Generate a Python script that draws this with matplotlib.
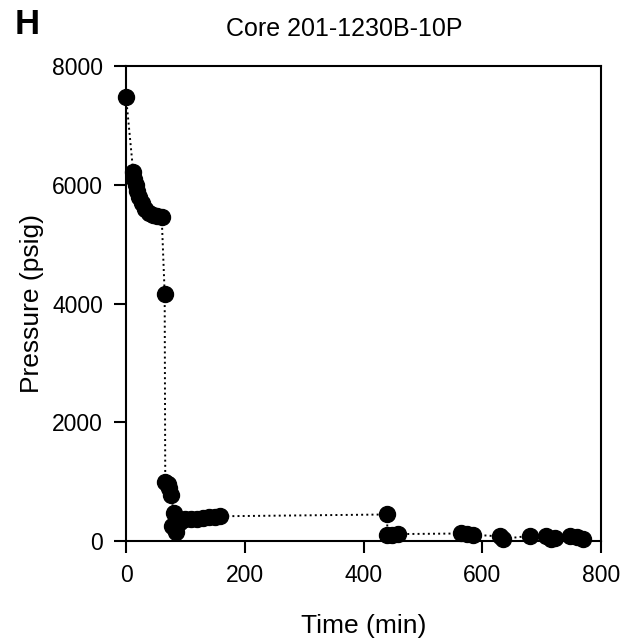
"""Pressure history for core 201-1230B-10P."""

import matplotlib

matplotlib.use("Agg")
import matplotlib.pyplot as plt

plt.rcParams["font.family"] = ["Liberation Sans", "DejaVu Sans"]

# time (min) and pressure (psig)
time_min = [0, 12, 14, 16, 18, 22, 27, 32, 38, 45, 52, 60, 65,
            66, 70, 73, 76, 80, 78, 84,
            90, 100, 110, 120, 130, 140, 150, 158,
            440, 440, 448, 458, 565, 575, 585,
            630, 635, 680, 708, 715, 722, 748, 760, 770]
pressure_psig = [7480, 6220, 6100, 6000, 5900, 5800, 5700, 5600, 5530, 5500, 5480, 5460, 4170,
                 1000, 960, 900, 780, 470, 250, 160,
                 330, 370, 380, 380, 390, 400, 410, 420,
                 450, 100, 100, 120, 130, 120, 110,
                 80, 40, 90, 80, 40, 60, 80, 70, 40]

x_ticks = [0, 200, 400, 600, 800]
y_ticks = [0, 2000, 4000, 6000, 8000]

fig = plt.figure(figsize=(6.4, 6.42), dpi=100)
ax = fig.add_axes([0.197, 0.157, 0.742, 0.740])

ax.plot(time_min, pressure_psig, linestyle=":", color="black", linewidth=1.4,
        marker="o", markersize=11.5, markerfacecolor="black",
        markeredgecolor="black", clip_on=False, zorder=3)

ax.set_xlim(0, 800)
ax.set_ylim(0, 8000)
ax.set_xticks(x_ticks)
ax.set_yticks(y_ticks)
ax.tick_params(direction="out", length=8.5, width=1.5, labelsize=16.5, pad=8)
for spine in ax.spines.values():
    spine.set_linewidth(1.5)

ax.set_xlabel("Time (min)", fontsize=19, labelpad=19)
ax.set_ylabel("Pressure (psig)", fontsize=19, labelpad=6)

fig.text(344 / 640, 1 - 29 / 642, "Core 201-1230B-10P", fontsize=18,
         ha="center", va="center")
fig.text(15 / 640, 1 - 24 / 642, "H", fontsize=25, fontweight="bold",
         ha="left", va="center")

fig.savefig("out.png", dpi=100)
plt.close(fig)
